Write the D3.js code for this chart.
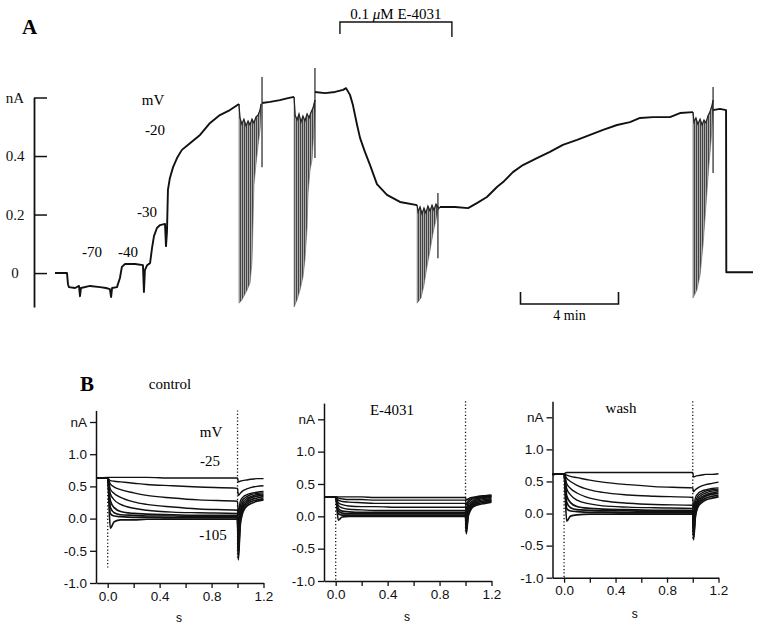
<!DOCTYPE html>
<html><head><meta charset="utf-8">
<script src="https://cdn.jsdelivr.net/npm/d3@7"></script>
<style>body{margin:0;background:#fff}svg{display:block}</style>
</head><body>
<svg id="chart" width="761" height="627"></svg>
<script>
// ================= DATA =================
// Panel A : time in min, current in nA
const aTicks = [0, 0.2, 0.4, 0.6];
const aTickLabels = ["0", "0.2", "0.4", "nA"];
const segA1 = [[0.00,0.000],[0.49,0.000],[0.53,-0.038],[0.57,-0.048],[0.82,-0.051],[0.98,-0.044],[1.02,-0.079],[1.06,-0.051],[1.43,-0.044],[1.84,-0.048],[2.08,-0.051],[2.24,-0.055],[2.29,-0.082],[2.33,-0.051],[2.53,-0.048],[2.65,-0.017],[2.73,0.021],[2.86,0.031],[3.27,0.031],[3.59,0.027],[3.63,-0.065],[3.67,0.010],[3.76,0.027],[3.88,0.034],[3.96,0.085],[4.04,0.126],[4.16,0.154],[4.29,0.164],[4.49,0.168],[4.53,0.092],[4.57,0.140],[4.61,0.284],[4.69,0.325],[4.82,0.362],[4.98,0.393],[5.18,0.421],[5.51,0.444],[5.92,0.472],[6.33,0.513],[6.73,0.540],[7.14,0.557],[7.51,0.578]];
const segA2 = [[8.45,0.581],[8.78,0.585],[9.18,0.591],[9.51,0.598],[9.76,0.602]];
const segA3 = [[10.61,0.619],[11.02,0.615],[11.43,0.619],[11.76,0.626],[11.88,0.632],[12.04,0.609],[12.16,0.574],[12.33,0.506],[12.45,0.462],[12.65,0.414],[12.86,0.369],[13.14,0.304],[13.55,0.267],[14.08,0.243],[14.78,0.232]];
const segA4 = [[15.71,0.226],[16.33,0.226],[16.86,0.222],[17.22,0.239],[17.63,0.260],[18.04,0.294],[18.29,0.311],[18.69,0.345],[19.10,0.369],[19.67,0.393],[20.20,0.414],[20.73,0.438],[21.31,0.455],[21.84,0.472],[22.37,0.489],[22.94,0.506],[23.47,0.516],[23.88,0.530],[24.41,0.533],[25.10,0.533],[25.51,0.547],[26.04,0.550]];
const segA5 = [[26.86,0.557],[27.14,0.561],[27.39,0.557],[27.40,0.003],[28.49,0.003]];
const burstTops = [
  [[7.51,0.578],[7.55,0.530],[7.63,0.509],[7.71,0.526],[7.80,0.503],[7.88,0.520],[7.96,0.506],[8.04,0.526],[8.12,0.513],[8.20,0.533],[8.29,0.540],[8.37,0.557],[8.41,0.578]],
  [[9.76,0.602],[9.80,0.540],[9.88,0.523],[9.96,0.544],[10.04,0.516],[10.12,0.537],[10.20,0.520],[10.29,0.544],[10.37,0.530],[10.45,0.550],[10.53,0.564],[10.61,0.591]],
  [[14.78,0.232],[14.82,0.209],[14.90,0.226],[14.98,0.202],[15.06,0.222],[15.14,0.205],[15.22,0.229],[15.31,0.212],[15.39,0.232],[15.47,0.215],[15.55,0.236],[15.63,0.226],[15.71,0.222]],
  [[26.04,0.550],[26.08,0.516],[26.16,0.530],[26.24,0.509],[26.33,0.526],[26.41,0.506],[26.49,0.523],[26.57,0.513],[26.65,0.537],[26.73,0.550],[26.82,0.574],[26.86,0.591]]
];
const burstBottoms = [
  [[7.51,-0.103],[7.63,-0.092],[7.84,-0.058],[7.96,-0.034],[8.04,0.038],[8.08,0.164],[8.12,0.301],[8.20,0.369],[8.29,0.438],[8.37,0.489],[8.41,0.540]],
  [[9.76,-0.116],[9.88,-0.092],[10.00,-0.058],[10.12,-0.014],[10.20,0.044],[10.29,0.157],[10.33,0.274],[10.41,0.352],[10.49,0.386],[10.57,0.489],[10.61,0.557]],
  [[14.78,-0.103],[14.94,-0.085],[15.06,-0.041],[15.18,0.021],[15.31,0.079],[15.43,0.137],[15.55,0.181],[15.63,0.215]],
  [[26.04,-0.085],[26.20,-0.058],[26.33,-0.007],[26.45,0.096],[26.57,0.232],[26.69,0.369],[26.78,0.455],[26.86,0.557]]
];
const spikesA = [[8.45,0.670,0.362],[10.61,0.701,0.393],[15.63,0.274,0.051],[26.86,0.636,0.342]];
const stepLabelsA = ["-70", "-40", "-30", "-20"];
const drugStart = 11.63, drugEnd = 16.2;       // min, 0.1 µM E-4031
const scaleBarStart = 19.0, scaleBarLen = 4;  // min

// Panel B : time in s, current in nA
const bYTicks = [-1.0, -0.5, 0.0, 0.5, 1.0, 1.5];
const bYTickLabels = ["-1.0", "-0.5", "0.0", "0.5", "1.0", "nA"];
const bXTicks = [0.0, 0.2, 0.4, 0.6, 0.8, 1.0, 1.2];
const bXLabelled = [0.0, 0.4, 0.8, 1.2];
const stepPotentials = [-25, -35, -45, -55, -65, -75, -85, -95, -105];
const stepTimes = [-0.09, 0, 0.02, 0.05, 0.1, 0.2, 0.3, 0.5, 0.7, 1.0];
const tailTimes = [1.0, 1.006, 1.02, 1.04, 1.07, 1.1, 1.15, 1.2];

const controlStep = [
  [0.63,0.64,0.64,0.64,0.64,0.64,0.64,0.63,0.63,0.63],
  [0.63,0.63,0.59,0.58,0.57,0.55,0.53,0.51,0.49,0.47],
  [0.63,0.63,0.54,0.49,0.45,0.40,0.36,0.32,0.29,0.27],
  [0.63,0.63,0.46,0.39,0.33,0.26,0.22,0.18,0.15,0.13],
  [0.63,0.63,0.39,0.29,0.22,0.16,0.13,0.10,0.09,0.08],
  [0.63,0.63,0.28,0.17,0.11,0.08,0.07,0.06,0.05,0.05],
  [0.63,0.63,0.18,0.09,0.06,0.05,0.04,0.04,0.03,0.03],
  [0.63,0.63,0.08,0.04,0.03,0.02,0.02,0.01,0.01,0.01],
  [0.63,0.63,-0.15,-0.05,-0.02,-0.02,-0.01,-0.01,-0.01,-0.01]
];
const controlTail = [
  [0.63,0.57,0.58,0.59,0.60,0.61,0.62,0.62],
  [0.47,0.36,0.39,0.43,0.46,0.48,0.50,0.51],
  [0.27,0.05,0.26,0.33,0.37,0.39,0.41,0.42],
  [0.13,-0.14,0.18,0.29,0.34,0.37,0.39,0.40],
  [0.08,-0.28,0.10,0.25,0.31,0.34,0.37,0.38],
  [0.05,-0.40,0.04,0.21,0.28,0.32,0.35,0.36],
  [0.03,-0.50,-0.02,0.17,0.25,0.29,0.32,0.34],
  [0.01,-0.58,-0.07,0.13,0.22,0.26,0.29,0.31],
  [-0.01,-0.64,-0.12,0.09,0.19,0.23,0.27,0.29]
];
const e4031Step = [
  [0.30,0.30,0.30,0.30,0.30,0.30,0.29,0.29,0.29,0.29],
  [0.30,0.30,0.28,0.27,0.26,0.26,0.25,0.25,0.25,0.25],
  [0.30,0.30,0.25,0.23,0.22,0.21,0.20,0.20,0.20,0.20],
  [0.30,0.30,0.21,0.18,0.16,0.15,0.15,0.14,0.14,0.14],
  [0.30,0.30,0.17,0.13,0.11,0.10,0.09,0.09,0.09,0.09],
  [0.30,0.30,0.12,0.08,0.07,0.06,0.06,0.06,0.06,0.06],
  [0.30,0.30,0.08,0.05,0.04,0.04,0.04,0.04,0.04,0.04],
  [0.30,0.30,0.04,0.02,0.02,0.02,0.02,0.02,0.02,0.02],
  [0.30,0.30,-0.06,-0.01,0.00,0.00,0.00,0.00,0.00,0.00]
];
const e4031Tail = [
  [0.29,0.25,0.27,0.29,0.30,0.31,0.32,0.33],
  [0.25,0.18,0.24,0.27,0.29,0.30,0.31,0.32],
  [0.20,0.10,0.20,0.25,0.28,0.29,0.30,0.31],
  [0.14,0.02,0.16,0.22,0.26,0.28,0.29,0.30],
  [0.09,-0.05,0.12,0.19,0.24,0.26,0.28,0.29],
  [0.06,-0.12,0.08,0.17,0.22,0.24,0.26,0.27],
  [0.04,-0.18,0.05,0.14,0.20,0.22,0.24,0.25],
  [0.02,-0.23,0.02,0.12,0.18,0.20,0.22,0.24],
  [0.00,-0.27,-0.01,0.10,0.16,0.18,0.20,0.22]
];
const washStep = [
  [0.61,0.62,0.64,0.64,0.64,0.64,0.64,0.64,0.64,0.64],
  [0.61,0.62,0.60,0.58,0.56,0.52,0.49,0.45,0.42,0.40],
  [0.61,0.62,0.55,0.50,0.44,0.37,0.33,0.29,0.27,0.25],
  [0.61,0.62,0.47,0.39,0.32,0.24,0.20,0.16,0.14,0.13],
  [0.61,0.62,0.39,0.29,0.21,0.15,0.12,0.10,0.09,0.08],
  [0.61,0.62,0.28,0.17,0.11,0.08,0.07,0.06,0.05,0.05],
  [0.61,0.62,0.18,0.09,0.06,0.05,0.04,0.04,0.03,0.03],
  [0.61,0.62,0.08,0.04,0.03,0.02,0.02,0.01,0.01,0.01],
  [0.61,0.62,-0.12,-0.04,-0.02,-0.01,-0.01,-0.01,-0.01,-0.01]
];
const washTail = [
  [0.64,0.57,0.58,0.59,0.60,0.61,0.61,0.62],
  [0.40,0.34,0.37,0.40,0.43,0.45,0.47,0.49],
  [0.25,0.08,0.24,0.31,0.35,0.37,0.39,0.40],
  [0.13,-0.06,0.17,0.27,0.32,0.35,0.37,0.38],
  [0.08,-0.15,0.11,0.23,0.29,0.32,0.35,0.36],
  [0.05,-0.24,0.06,0.20,0.26,0.29,0.32,0.34],
  [0.03,-0.31,0.02,0.16,0.23,0.27,0.30,0.31],
  [0.01,-0.37,-0.02,0.13,0.20,0.24,0.27,0.28],
  [-0.01,-0.41,-0.06,0.10,0.17,0.21,0.24,0.26]
];
// capacitive artifacts: [time s, from nA, to nA]
const controlArtifacts = [[0.0,0.63,-0.76],[1.0,1.68,-0.64]];
const e4031Artifacts = [[0.0,0.30,-1.0],[1.0,1.78,-0.27]];
const washArtifacts = [[0.0,0.62,-1.0],[1.0,1.75,-0.41]];

// ================= DRAW =================
const SERIF = "'Liberation Serif','Times New Roman',serif";
const SANS = "'Liberation Sans',Arial,sans-serif";
const svg = d3.select("#chart");

const defs = svg.append("defs");
const pat = defs.append("pattern").attr("id","vstripes").attr("patternUnits","userSpaceOnUse")
  .attr("width",2).attr("height",6);
pat.append("rect").attr("width",1).attr("height",6).attr("fill","#444");
pat.append("rect").attr("x",1).attr("width",1).attr("height",6).attr("fill","#aaa");

// ---------- Panel A ----------
const xA = d3.scaleLinear().domain([0, 28.5]).range([55, 753.25]);
const yA = d3.scaleLinear().domain([-0.116, 0.6]).range([307, 97.5]);
const gA = svg.append("g");

svg.append("text").attr("x",22).attr("y",34).text("A")
  .attr("font-family",SERIF).attr("font-weight","bold").attr("font-size",21);

const axA = gA.append("g").attr("transform","translate(34,0)")
  .call(d3.axisRight(yA).tickValues(aTicks).tickSize(13).tickSizeOuter(0)
    .tickFormat((d,i)=>aTickLabels[i]));
axA.select(".domain").attr("stroke","#111").attr("stroke-width",1.8);
axA.selectAll(".tick line").attr("stroke","#111").attr("stroke-width",1.5);
axA.selectAll(".tick text").attr("x",-19).attr("text-anchor","middle")
  .attr("font-family",SERIF).attr("font-size",15).attr("fill","#111");

const lineA = d3.line().x(d=>xA(d[0])).y(d=>yA(d[1]));
burstTops.forEach((top,i)=>{
  const pts = top.concat(burstBottoms[i].slice().reverse());
  gA.append("path").attr("d", lineA(pts)+"Z")
    .attr("fill","url(#vstripes)").attr("stroke","#666").attr("stroke-width",0.6);
  gA.append("path").attr("d", lineA(top)).attr("fill","none")
    .attr("stroke","#222").attr("stroke-width",1.2);
});
[segA1,segA2,segA3,segA4,segA5].forEach(seg=>{
  gA.append("path").attr("d",lineA(seg)).attr("fill","none")
    .attr("stroke","#111").attr("stroke-width",1.9).attr("stroke-linejoin","round");
});
spikesA.forEach(s=>{
  gA.append("line").attr("x1",xA(s[0])).attr("x2",xA(s[0]))
    .attr("y1",yA(s[1])).attr("y2",yA(s[2])).attr("stroke","#222").attr("stroke-width",1.2);
});

const labA = [[92,257],[128,257],[147,217],[155,135]];
stepLabelsA.forEach((t,i)=>{
  gA.append("text").attr("x",labA[i][0]).attr("y",labA[i][1]).attr("text-anchor","middle")
    .attr("font-family",SERIF).attr("font-size",15).text(t);
});
gA.append("text").attr("x",153).attr("y",105).attr("text-anchor","middle")
  .attr("font-family",SERIF).attr("font-size",15).text("mV");

// drug bar
gA.append("path").attr("d",`M${xA(drugStart)},34 V22 H${xA(drugEnd)} V37`)
  .attr("fill","none").attr("stroke","#111").attr("stroke-width",1.4);
const dt = gA.append("text").attr("x",(xA(drugStart)+xA(drugEnd))/2).attr("y",19)
  .attr("text-anchor","middle").attr("font-family",SERIF).attr("font-size",15);
dt.append("tspan").text("0.1 ");
dt.append("tspan").attr("font-style","italic").text("\u03BC");
dt.append("tspan").text("M E-4031");

// scale bar
gA.append("path").attr("d",`M${xA(scaleBarStart)},292 V304 H${xA(scaleBarStart+scaleBarLen)} V292`)
  .attr("fill","none").attr("stroke","#111").attr("stroke-width",1.6);
gA.append("text").attr("x",(xA(scaleBarStart)+xA(scaleBarStart+scaleBarLen))/2).attr("y",320)
  .attr("text-anchor","middle").attr("font-family",SERIF).attr("font-size",14).text("4 min");

// ---------- Panel B ----------
svg.append("text").attr("x",80).attr("y",391).text("B")
  .attr("font-family",SERIF).attr("font-weight","bold").attr("font-size",21);

const panelsB = [
  {title:"control", step:controlStep, tail:controlTail, art:controlArtifacts,
   x0:96, x1:263.5, yb:583, yt:422, top:1.68, tx:170, ty:389, sy:622},
  {title:"E-4031", step:e4031Step, tail:e4031Tail, art:e4031Artifacts,
   x0:324, x1:491.5, yb:581, yt:419.3, top:1.75, tx:392, ty:415, sy:621},
  {title:"wash", step:washStep, tail:washTail, art:washArtifacts,
   x0:552.5, x1:718.5, yb:577.7, yt:417.3, top:1.75, tx:621, ty:413, sy:618}
];

panelsB.forEach(p=>{
  const g = svg.append("g");
  const x = d3.scaleLinear().domain([-0.09, 1.2]).range([p.x0, p.x1]);
  const y = d3.scaleLinear().domain([-1.0, 1.5]).range([p.yb, p.yt]);
  const yAxisScale = y.copy().domain([-1.0, p.top]).range([y(-1.0), y(p.top)]);

  const ay = g.append("g").attr("transform",`translate(${p.x0},0)`)
    .call(d3.axisLeft(yAxisScale).tickValues(bYTicks).tickSize(6).tickSizeOuter(0)
      .tickFormat((d,i)=>bYTickLabels[i]));
  const ax = g.append("g").attr("transform",`translate(0,${p.yb})`)
    .call(d3.axisBottom(x).tickValues(bXTicks).tickSize(5).tickSizeOuter(0)
      .tickFormat(d=>bXLabelled.some(v=>Math.abs(v-d)<1e-9)?d3.format(".1f")(d):""));
  [ay,ax].forEach(a=>{
    a.select(".domain").attr("stroke","#111").attr("stroke-width",1.5);
    a.selectAll(".tick line").attr("stroke","#111").attr("stroke-width",1.3);
    a.selectAll(".tick text").attr("font-family",SANS).attr("font-size",13.5).attr("fill","#111");
  });

  const line = d3.line().curve(d3.curveMonotoneX).x(d=>x(d[0])).y(d=>y(d[1]));
  p.step.forEach((vals,i)=>{
    const pts = stepTimes.map((t,j)=>[t,vals[j]])
      .concat(tailTimes.slice(1).map((t,j)=>[t,p.tail[i][j+1]]));
    g.append("path").attr("d",line(pts)).attr("fill","none")
      .attr("stroke","#111").attr("stroke-width",i>=5?1.7:1.4);
  });
  p.art.forEach(a=>{
    g.append("line").attr("x1",x(a[0])).attr("x2",x(a[0]))
      .attr("y1",y(a[1])).attr("y2",y(a[2]))
      .attr("stroke","#111").attr("stroke-width",1.3).attr("stroke-dasharray","1.2,2.2");
  });

  g.append("text").attr("x",p.tx).attr("y",p.ty).attr("text-anchor","middle")
    .attr("font-family",SERIF).attr("font-size",15).text(p.title);
  g.append("text").attr("x",x(0.55)).attr("y",p.sy).attr("text-anchor","middle")
    .attr("font-family",SANS).attr("font-size",12).text("s");
});

// control voltage labels
[["mV",211,437],["-25",210,466],["-105",213,540]].forEach(l=>{
  svg.append("text").attr("x",l[1]).attr("y",l[2]).attr("text-anchor","middle")
    .attr("font-family",SERIF).attr("font-size",15).text(l[0]);
});
</script>
</body></html>
